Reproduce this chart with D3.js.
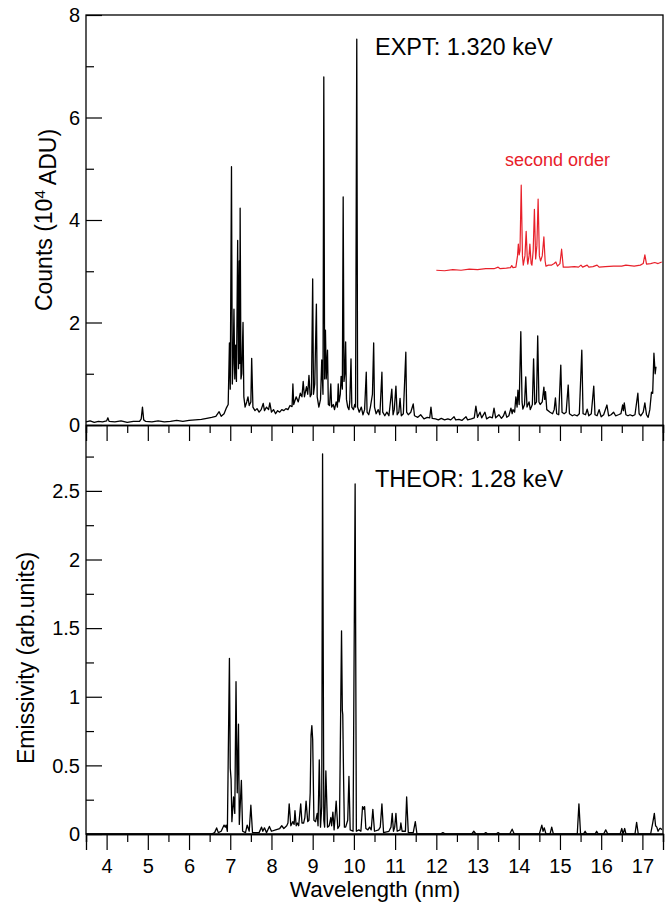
<!DOCTYPE html>
<html><head><meta charset="utf-8">
<script src="https://cdn.jsdelivr.net/npm/d3@7"></script>
<style>body{margin:0;background:#fff}svg{display:block}text{font-family:"Liberation Sans",Arial,sans-serif}</style>
</head><body><svg id="c" width="671" height="904"></svg>
<script>
// ---- data ----
const xTicksMajor = [4,5,6,7,8,9,10,11,12,13,14,15,16,17];
const topYTicks = [0,2,4,6,8];
const botYTicks = [0,0.5,1,1.5,2,2.5];

const exptSpectrum = [[3.50,0.06],[3.60,0.08],[3.70,0.05],[3.80,0.07],[3.90,0.06],[4.00,0.08],[4.03,0.14],[4.06,0.07],[4.20,0.06],[4.35,0.08],[4.50,0.05],[4.65,0.07],[4.80,0.07],[4.84,0.12],[4.87,0.35],[4.90,0.10],[4.95,0.07],[5.10,0.06],[5.25,0.08],[5.40,0.06],[5.55,0.07],[5.70,0.09],[5.85,0.07],[6.00,0.09],[6.15,0.10],[6.30,0.11],[6.43,0.13],[6.55,0.15],[6.65,0.17],[6.73,0.26],[6.78,0.17],[6.85,0.22],[6.91,0.34],[6.95,0.40],
[6.98,1.60],[7.00,0.70],[7.03,5.04],[7.05,0.80],[7.07,1.20],[7.09,2.26],[7.11,0.90],[7.13,1.56],[7.15,0.85],[7.18,3.60],[7.20,1.10],[7.22,3.20],[7.23,1.20],[7.24,4.23],[7.26,0.90],[7.28,1.00],[7.31,2.00],[7.33,0.55],[7.36,0.35],[7.40,0.45],[7.43,0.55],[7.46,0.38],[7.50,0.45],[7.52,1.30],[7.55,0.35],[7.60,0.28],[7.65,0.32],[7.70,0.25],[7.75,0.30],[7.80,0.42],[7.83,0.28],[7.88,0.35],[7.93,0.30],[7.96,0.43],[8.00,0.25],[8.05,0.30],[8.10,0.22],[8.15,0.28],[8.20,0.25],[8.25,0.30],[8.30,0.28],[8.35,0.32],[8.40,0.30],[8.45,0.38],[8.50,0.36],[8.52,0.80],[8.54,0.40],[8.60,0.55],[8.65,0.45],[8.70,0.62],[8.74,0.55],[8.77,0.85],[8.80,0.55],[8.85,0.75],[8.88,0.60],[8.91,0.97],[8.94,0.55],[8.97,0.60],[9.00,2.85],[9.02,0.60],[9.05,0.80],[9.09,2.36],[9.11,0.55],[9.15,0.35],[9.19,0.50],[9.22,1.27],[9.25,0.60],[9.27,6.79],[9.29,0.90],[9.31,1.85],[9.33,0.90],[9.36,1.46],[9.38,0.40],[9.41,0.38],[9.44,0.80],[9.46,0.35],[9.50,0.40],[9.53,0.30],[9.57,0.45],[9.60,0.35],[9.62,0.80],[9.64,0.45],[9.67,0.60],[9.69,0.95],[9.72,0.70],[9.74,4.45],[9.76,0.85],[9.78,1.00],[9.80,1.62],[9.82,0.50],[9.85,0.35],[9.88,0.30],[9.90,0.45],[9.93,1.29],[9.95,0.35],[9.99,0.30],[10.02,0.40],[10.04,0.35],[10.07,7.53],[10.09,0.35],[10.13,0.25],[10.18,0.35],[10.22,0.20],[10.26,0.30],[10.30,1.03],[10.32,0.25],[10.36,0.20],[10.40,0.35],[10.45,0.60],[10.48,1.60],[10.50,0.35],[10.54,0.22],[10.59,0.30],[10.63,0.20],[10.68,1.03],[10.70,0.25],[10.75,0.18],[10.80,0.25],[10.85,0.18],[10.92,0.70],[10.95,0.20],[10.98,0.30],[11.02,0.76],[11.05,0.20],[11.09,0.25],[11.12,0.52],[11.15,0.18],[11.20,0.22],[11.26,1.42],[11.28,0.25],[11.32,0.20],[11.38,0.25],[11.44,0.41],[11.47,0.18],[11.55,0.15],[11.62,0.20],[11.70,0.12],[11.78,0.15],[11.84,0.14],[11.87,0.35],[11.90,0.13],[11.98,0.12],[12.05,0.10],[12.12,0.13],[12.20,0.10],[12.28,0.12],[12.35,0.10],[12.43,0.16],[12.47,0.10],[12.55,0.11],[12.62,0.09],[12.72,0.16],[12.76,0.10],[12.85,0.12],[12.92,0.14],[12.96,0.37],[13.00,0.15],[13.06,0.25],[13.10,0.14],[13.18,0.25],[13.22,0.12],[13.30,0.16],[13.36,0.14],[13.40,0.33],[13.44,0.14],[13.52,0.20],[13.58,0.13],[13.63,0.18],[13.67,0.27],[13.71,0.15],[13.76,0.18],[13.81,0.33],[13.84,0.22],[13.86,0.30],[13.90,0.25],[13.93,0.55],[13.96,0.35],[13.98,0.68],[14.01,0.40],[14.05,1.82],[14.08,0.45],[14.10,0.31],[14.14,0.40],[14.17,0.94],[14.20,0.35],[14.25,0.45],[14.28,0.30],[14.33,0.40],[14.36,1.29],[14.39,0.40],[14.43,0.45],[14.46,1.74],[14.49,0.45],[14.52,0.40],[14.57,0.45],[14.61,0.74],[14.63,0.50],[14.65,0.65],[14.68,0.30],[14.76,0.25],[14.82,0.22],[14.86,0.30],[14.89,0.53],[14.92,0.22],[14.97,0.20],[15.02,1.17],[15.05,0.25],[15.10,0.22],[15.15,0.25],[15.20,0.78],[15.23,0.22],[15.30,0.18],[15.35,0.20],[15.42,0.18],[15.47,0.22],[15.53,1.46],[15.56,0.22],[15.62,0.20],[15.66,0.31],[15.70,0.18],[15.76,0.22],[15.82,0.76],[15.85,0.20],[15.90,0.18],[15.95,0.30],[16.00,0.16],[16.06,0.20],[16.14,0.39],[16.18,0.18],[16.24,0.20],[16.30,0.25],[16.35,0.18],[16.42,0.20],[16.48,0.22],[16.52,0.39],[16.54,0.28],[16.56,0.43],[16.60,0.20],[16.65,0.18],[16.70,0.20],[16.76,0.18],[16.82,0.20],[16.89,0.62],[16.92,0.22],[16.96,0.18],[17.02,0.25],[17.06,0.43],[17.10,0.20],[17.14,0.15],[17.18,0.30],[17.22,0.64],[17.25,0.62],[17.28,1.40],[17.31,1.00],[17.33,1.14]];

const secondOrder = [[12.00,3.02],[12.20,3.01],[12.40,3.03],[12.60,3.02],[12.80,3.04],[13.00,3.03],[13.20,3.05],[13.40,3.05],[13.50,3.08],[13.55,3.05],[13.70,3.06],[13.80,3.07],[13.83,3.11],[13.86,3.07],[13.93,3.08],[13.97,3.30],[13.99,3.53],[14.01,3.32],[14.03,3.40],[14.06,4.68],[14.09,3.30],[14.11,3.12],[14.15,3.30],[14.18,3.78],[14.21,3.20],[14.22,3.14],[14.25,3.30],[14.27,3.53],[14.30,3.15],[14.32,3.12],[14.35,3.40],[14.38,4.21],[14.41,3.24],[14.44,3.50],[14.47,4.41],[14.50,3.30],[14.53,3.20],[14.57,3.30],[14.61,3.67],[14.64,3.20],[14.66,3.10],[14.72,3.12],[14.80,3.12],[14.86,3.15],[14.90,3.18],[14.94,3.10],[15.00,3.15],[15.04,3.43],[15.08,3.08],[15.20,3.08],[15.35,3.09],[15.45,3.08],[15.51,3.12],[15.55,3.08],[15.66,3.12],[15.70,3.08],[15.80,3.09],[15.90,3.12],[15.95,3.08],[16.10,3.09],[16.30,3.10],[16.50,3.10],[16.60,3.12],[16.80,3.10],[16.95,3.12],[17.02,3.15],[17.06,3.32],[17.10,3.14],[17.20,3.15],[17.30,3.17],[17.38,3.15],[17.47,3.18]];

const theorSpectrum = [[3.50,0],[6.55,0],[6.62,0.01],[6.67,0.044],[6.71,0.01],[6.78,0.02],[6.85,0.065],[6.88,0.05],[6.90,0.065],[6.93,0.02],[6.98,1.28],[7.00,0.48],[7.02,0.40],[7.04,0.09],[7.08,0.27],[7.11,0.15],[7.14,1.11],[7.16,0.50],[7.17,0.30],[7.20,0.80],[7.22,0.07],[7.27,0.39],[7.30,0.02],[7.37,0.01],[7.41,0.065],[7.46,0.02],[7.50,0.21],[7.54,0.01],[7.70,0.01],[7.76,0.05],[7.79,0.02],[7.83,0.045],[7.88,0.01],[7.95,0.055],[8.00,0.02],[8.10,0.03],[8.20,0.04],[8.25,0.06],[8.30,0.04],[8.37,0.06],[8.40,0.08],[8.43,0.22],[8.47,0.06],[8.52,0.09],[8.55,0.07],[8.57,0.17],[8.60,0.06],[8.63,0.08],[8.66,0.06],[8.71,0.22],[8.74,0.08],[8.78,0.08],[8.81,0.12],[8.84,0.24],[8.88,0.09],[8.91,0.10],[8.94,0.30],[8.96,0.72],[8.98,0.79],[9.00,0.69],[9.03,0.10],[9.07,0.09],[9.11,0.15],[9.13,0.06],[9.16,0.54],[9.19,0.05],[9.22,0.20],[9.24,2.77],[9.27,0.10],[9.29,0.05],[9.32,0.46],[9.36,0.05],[9.40,0.06],[9.44,0.12],[9.46,0.06],[9.49,0.16],[9.52,0.03],[9.57,0.24],[9.61,0.04],[9.65,0.06],[9.70,1.48],[9.72,0.90],[9.73,0.87],[9.75,0.40],[9.77,0.05],[9.80,0.05],[9.85,0.10],[9.88,0.42],[9.91,0.03],[9.98,0.02],[10.03,2.55],[10.06,0.02],[10.12,0.03],[10.17,0.02],[10.21,0.20],[10.24,0.18],[10.26,0.20],[10.29,0.04],[10.34,0.03],[10.38,0.05],[10.42,0.03],[10.46,0.18],[10.50,0.02],[10.60,0.03],[10.64,0.05],[10.68,0.22],[10.72,0.01],[10.85,0.02],[10.90,0.05],[10.93,0.15],[10.96,0.02],[10.99,0.05],[11.02,0.15],[11.05,0.02],[11.12,0.03],[11.14,0.08],[11.17,0.02],[11.25,0.02],[11.28,0.27],[11.32,0.01],[11.44,0.01],[11.49,0.09],[11.53,0],[12.10,0],[12.16,0.01],[12.22,0],[12.86,0],[12.91,0.02],[12.96,0],[13.15,0],[13.20,0.01],[13.25,0],[13.45,0],[13.50,0.01],[13.55,0],[13.78,0],[13.84,0.035],[13.89,0],[14.50,0],[14.56,0.065],[14.59,0.02],[14.62,0.045],[14.66,0],[14.76,0],[14.80,0.05],[14.84,0],[15.42,0],[15.46,0.22],[15.50,0],[15.57,0],[15.61,0.02],[15.65,0],[15.85,0],[15.89,0.02],[15.93,0],[16.06,0],[16.11,0.03],[16.16,0],[16.46,0],[16.50,0.04],[16.53,0],[16.57,0.04],[16.60,0],[16.82,0],[16.86,0.085],[16.90,0],[17.20,0],[17.25,0.08],[17.29,0.15],[17.32,0.06],[17.35,0.05],[17.38,0.02],[17.42,0.04],[17.45,0.04],[17.47,0.03]];

// ---- layout ----
const L = 86, R = 663, T = 15, MID = 425, B = 834;
const svg = d3.select("#c");
const x = d3.scaleLinear().domain([3.5, 17.5]).range([L, R]);
const yTop = d3.scaleLinear().domain([0, 8]).range([MID, T]);
const yBot = d3.scaleLinear().domain([0, 2.98]).range([B, MID]);
const fsTick = 20, fsTitle = 23, fsNote = 23.5;

// frame
svg.append("rect").attr("x", L).attr("y", T).attr("width", R - L).attr("height", B - T)
  .attr("fill", "none").attr("stroke", "#000").attr("stroke-width", 1.3);

// x axes (ticks downward) at MID and B
function xAxis(yPos, labels) {
  const g = svg.append("g").attr("transform", `translate(0,${yPos})`);
  g.call(d3.axisBottom(x).tickValues(xTicksMajor).tickSize(16).tickFormat(labels ? d3.format("d") : ""));
  g.append("g").call(d3.axisBottom(x).tickValues(d3.range(3.5, 17.6, 1)).tickSize(8).tickFormat(""));
  g.selectAll(".domain").attr("stroke", "#000").attr("stroke-width", 1.3);
  g.selectAll(".tick line").attr("stroke", "#000").attr("stroke-width", 1.2);
  g.selectAll(".tick text").attr("font-size", fsTick).attr("fill", "#000").attr("y", 39).attr("dy", 0)
   .attr("font-family", '"Liberation Sans", Arial, sans-serif');
}
xAxis(MID, false);
xAxis(B, true);

// y axes (ticks inward)
function yAxis(scale, major, minor, fmt) {
  const g = svg.append("g").attr("transform", `translate(${L},0)`);
  g.call(d3.axisRight(scale).tickValues(major).tickSize(16).tickFormat(""));
  g.append("g").call(d3.axisRight(scale).tickValues(minor).tickSize(8).tickFormat(""));
  g.selectAll(".domain").remove();
  g.selectAll(".tick line").attr("stroke", "#000").attr("stroke-width", 1.2);
  svg.append("g").selectAll("text").data(major).join("text")
    .attr("x", L - 6).attr("y", d => scale(d)).attr("dy", "0.36em")
    .attr("text-anchor", "end").attr("font-size", fsTick).text(fmt);
}
yAxis(yTop, topYTicks, [1,3,5,7], d => d3.format("d")(d));
yAxis(yBot, botYTicks, [0.25,0.75,1.25,1.75,2.25,2.75], d => String(d));

// lines
const lineTop = d3.line().x(d => x(d[0])).y(d => yTop(d[1]));
const lineBot = d3.line().x(d => x(d[0])).y(d => yBot(d[1]));
svg.append("path").datum(exptSpectrum).attr("d", lineTop).attr("fill", "none")
  .attr("stroke", "#000").attr("stroke-width", 1.3).attr("stroke-linejoin", "round");
svg.append("path").datum(secondOrder).attr("d", lineTop).attr("fill", "none")
  .attr("stroke", "#e8202a").attr("stroke-width", 1.2).attr("stroke-linejoin", "round");
svg.append("path").datum(theorSpectrum).attr("d", lineBot).attr("fill", "none")
  .attr("stroke", "#000").attr("stroke-width", 1.3).attr("stroke-linejoin", "round");

// annotations
svg.append("text").attr("x", 375).attr("y", 55).attr("font-size", fsNote).text("EXPT: 1.320 keV");
svg.append("text").attr("x", 375).attr("y", 487).attr("font-size", fsNote).text("THEOR: 1.28 keV");
svg.append("text").attr("x", 505).attr("y", 166).attr("font-size", 18).attr("fill", "#e8202a").text("second order");

// axis titles
const t1 = svg.append("text").attr("transform", "translate(52,220) rotate(-90)")
  .attr("text-anchor", "middle").attr("font-size", fsTitle);
t1.append("tspan").text("Counts (10");
t1.append("tspan").attr("dy", "-0.45em").attr("font-size", 15).text("4");
t1.append("tspan").attr("dy", "0.45em").text(" ADU)");
svg.append("text").attr("transform", "translate(34,658) rotate(-90)")
  .attr("text-anchor", "middle").attr("font-size", fsTitle).text("Emissivity (arb.units)");
svg.append("text").attr("x", 375).attr("y", 897).attr("text-anchor", "middle")
  .attr("font-size", 22.5).text("Wavelength (nm)");
</script></body></html>
